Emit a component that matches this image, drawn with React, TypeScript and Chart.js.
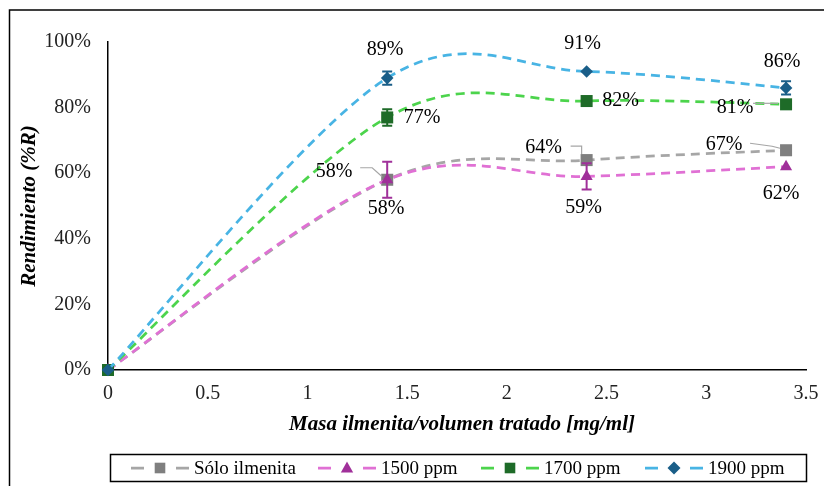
import React, { useEffect, useRef } from 'react';
import { Chart, registerables } from 'chart.js';

Chart.register(...registerables);

// ---------- data ----------
const xValues = [0, 1.4, 2.4, 3.4];
const seriesNames = ['Sólo ilmenita', '1500 ppm', '1700 ppm', '1900 ppm'];
const soloIlmenita = [0, 58, 64, 67];
const ppm1500 = [0, 58, 59, 62];
const ppm1700 = [0, 77, 82, 81];
const ppm1900 = [0, 89, 91, 86];
const errSolo = [0, 0, 0, 0];
const err1500 = [0, 5.5, 4, 0];
const err1700 = [0, 2.5, 0, 0];
const err1900 = [0, 2, 0, 2];
const yTickStep = 20;
const xTickStep = 0.5;
const xTitle = 'Masa ilmenita/volumen tratado [mg/ml]';
const yTitle = 'Rendimiento (%R)';

// ---------- styles ----------
const SERIF = '"Liberation Serif", "Times New Roman", serif';
type Style = { line: string; marker: string; shape: 'rect' | 'triangle' | 'rectRot'; radius: number };
const styles: Style[] = [
  { line: '#a6a6a6', marker: '#7f7f7f', shape: 'rect', radius: 8.5 },
  { line: '#e070d4', marker: '#a0309a', shape: 'triangle', radius: 7 },
  { line: '#4cd44c', marker: '#1e6b28', shape: 'rect', radius: 8.5 },
  { line: '#48b4e4', marker: '#1a5e88', shape: 'rectRot', radius: 6.3 },
];
const seriesValues = [soloIlmenita, ppm1500, ppm1700, ppm1900];
const seriesErrors = [errSolo, err1500, err1700, err1900];

// label offsets (dx, dy) relative to point, and optional leader line polyline (relative)
type LabelPos = { dx: number; dy: number; leader?: number[][] } | null;
const labelPos: LabelPos[][] = [
  [null,
    { dx: -53, dy: -8, leader: [[-27, -12], [-15, -12], [-5, -3]] },
    { dx: -43, dy: -12, leader: [[-16, -14], [-5, -14], [-5, -6]] },
    { dx: -62, dy: -5, leader: [[-36, -7], [-14, -4], [-6, -2]] }],
  [null, { dx: -1, dy: 29 }, { dx: -3, dy: 31 }, { dx: -5, dy: 27 }],
  [null, { dx: 35, dy: 0 }, { dx: 34, dy: 0 }, { dx: -51, dy: 3, leader: [[-33, -1], [-8, -1]] }],
  [null, { dx: -2, dy: -28 }, { dx: -4, dy: -28 }, { dx: -4, dy: -26 }],
];

function drawMarker(ctx: CanvasRenderingContext2D, shape: string, x: number, y: number, r: number, color: string) {
  ctx.save();
  ctx.fillStyle = color;
  ctx.beginPath();
  if (shape === 'rect') {
    const s = r * Math.SQRT1_2;
    ctx.rect(x - s, y - s, 2 * s, 2 * s);
  } else if (shape === 'triangle') {
    ctx.moveTo(x, y - r);
    ctx.lineTo(x + r * 0.95, y + r * 0.7);
    ctx.lineTo(x - r * 0.95, y + r * 0.7);
    ctx.closePath();
  } else {
    ctx.moveTo(x, y - r);
    ctx.lineTo(x + r, y);
    ctx.lineTo(x, y + r);
    ctx.lineTo(x - r, y);
    ctx.closePath();
  }
  ctx.fill();
  ctx.restore();
}

// Excel-like smoothing (uniform Catmull-Rom, 1/6 factor) applied to Chart.js control points
const smoothPlugin = {
  id: 'excelSmooth',
  beforeDatasetDraw(chart: any, args: any) {
    const meta = args.meta;
    const line = meta.dataset;
    const pts = meta.data;
    if (!line || !pts || pts.length < 2) return;
    const n = pts.length;
    for (let i = 0; i < n; i++) {
      const prev = pts[Math.max(0, i - 1)];
      const next = pts[Math.min(n - 1, i + 1)];
      const dx = (next.x - prev.x) / 6;
      const dy = (next.y - prev.y) / 6;
      pts[i].cp1x = pts[i].x - dx;
      pts[i].cp1y = pts[i].y - dy;
      pts[i].cp2x = pts[i].x + dx;
      pts[i].cp2y = pts[i].y + dy;
    }
    line._pointsUpdated = true;
    delete line._path;
  },
};

const overlayPlugin = {
  id: 'overlay',
  afterDatasetsDraw(chart: any) {
    const ctx: CanvasRenderingContext2D = chart.ctx;
    const xs = chart.scales.x;
    const ys = chart.scales.y;
    ctx.save();
    seriesErrors.forEach((errs, si) => {
      errs.forEach((e, i) => {
        if (!e) return;
        const px = xs.getPixelForValue(xValues[i]);
        const v = seriesValues[si][i];
        const y1 = ys.getPixelForValue(v + e);
        const y2 = ys.getPixelForValue(v - e);
        ctx.strokeStyle = styles[si].marker;
        ctx.lineWidth = 2;
        ctx.beginPath();
        ctx.moveTo(px, y1);
        ctx.lineTo(px, y2);
        ctx.moveTo(px - 5, y1);
        ctx.lineTo(px + 5, y1);
        ctx.moveTo(px - 5, y2);
        ctx.lineTo(px + 5, y2);
        ctx.stroke();
      });
    });
    ctx.restore();
  },
  afterDraw(chart: any) {
    const ctx: CanvasRenderingContext2D = chart.ctx;
    const xs = chart.scales.x;
    const ys = chart.scales.y;
    const area = chart.chartArea;
    ctx.save();

    // outer frame (top + left)
    ctx.strokeStyle = '#000';
    ctx.lineWidth = 1.5;
    ctx.beginPath();
    ctx.moveTo(9.5, 490);
    ctx.lineTo(9.5, 10);
    ctx.lineTo(830, 10);
    ctx.stroke();

    // axis titles
    ctx.fillStyle = '#000';
    ctx.font = `bold italic 21px ${SERIF}`;
    ctx.textAlign = 'center';
    ctx.textBaseline = 'middle';
    ctx.fillText(xTitle, (area.left + area.right) / 2 + 5, 425);
    ctx.save();
    ctx.translate(30, (area.top + area.bottom) / 2);
    ctx.rotate(-Math.PI / 2);
    ctx.fillText(yTitle, 0, 0);
    ctx.restore();

    // data labels + leader lines
    ctx.font = `20px ${SERIF}`;
    seriesValues.forEach((vals, si) => {
      vals.forEach((v, i) => {
        const lp = labelPos[si][i];
        if (!lp) return;
        const px = xs.getPixelForValue(xValues[i]);
        const py = ys.getPixelForValue(v);
        if (lp.leader) {
          ctx.strokeStyle = '#a6a6a6';
          ctx.lineWidth = 1.2;
          ctx.beginPath();
          lp.leader.forEach((p, k) => {
            if (k === 0) ctx.moveTo(px + p[0], py + p[1]);
            else ctx.lineTo(px + p[0], py + p[1]);
          });
          ctx.stroke();
        }
        ctx.fillStyle = '#000';
        ctx.fillText(`${Math.round(v)}%`, px + lp.dx, py + lp.dy);
      });
    });

    // legend
    const lx0 = 110, ly0 = 454, lx1 = 806, ly1 = 481;
    ctx.strokeStyle = '#000';
    ctx.lineWidth = 1.5;
    ctx.strokeRect(lx0 + 0.5, ly0 + 0.5, lx1 - lx0, ly1 - ly0);
    const itemX = [131, 318, 481, 645];
    const cy = (ly0 + ly1) / 2 + 0.5;
    ctx.font = `19px ${SERIF}`;
    ctx.textAlign = 'left';
    ctx.textBaseline = 'middle';
    seriesNames.forEach((name, si) => {
      const x = itemX[si];
      const st = styles[si];
      ctx.strokeStyle = st.line;
      ctx.lineWidth = 2.75;
      ctx.beginPath();
      ctx.moveTo(x, cy);
      ctx.lineTo(x + 13, cy);
      ctx.moveTo(x + 45, cy);
      ctx.lineTo(x + 58, cy);
      ctx.stroke();
      drawMarker(ctx, st.shape, x + 29, cy, st.shape === 'rect' ? 7.5 : 6.5, st.marker);
      ctx.fillStyle = '#000';
      ctx.fillText(name, x + 63, cy + 1);
    });

    ctx.restore();
  },
};

export default function App() {
  const canvasRef = useRef<HTMLCanvasElement | null>(null);

  useEffect(() => {
    if (!canvasRef.current) return;
    const datasets = seriesValues.map((vals, si) => ({
      label: seriesNames[si],
      data: xValues.map((x, i) => ({ x, y: vals[i] })),
      borderColor: styles[si].line,
      backgroundColor: styles[si].marker,
      pointBackgroundColor: styles[si].marker,
      pointBorderColor: styles[si].marker,
      pointBorderWidth: 0,
      pointStyle: styles[si].shape,
      pointRadius: styles[si].radius,
      borderWidth: 2.75,
      borderDash: [9, 6],
      tension: 0.4,
      fill: false,
      clip: false as any,
      order: 3 - si,
    }));

    const chart = new Chart(canvasRef.current, {
      type: 'line',
      data: { datasets },
      plugins: [smoothPlugin, overlayPlugin],
      options: {
        animation: false,
        responsive: false,
        devicePixelRatio: 1,
        layout: { padding: { left: 0, right: 18, top: 42, bottom: 0 } },
        plugins: { legend: { display: false }, tooltip: { enabled: false } },
        scales: {
          x: {
            type: 'linear',
            min: 0,
            max: 3.5,
            ticks: {
              stepSize: xTickStep,
              color: '#222',
              font: { family: SERIF, size: 20 },
              padding: 12,
              maxRotation: 0,
              callback: (v: any) => `${Math.round(Number(v) * 10) / 10}`,
            },
            grid: { display: false, drawTicks: false },
            border: { display: true, color: '#000', width: 1.5 },
            afterFit: (s: any) => {
              s.height = 116;
              s.paddingLeft = 0;
              s.paddingRight = 0;
            },
          },
          y: {
            type: 'linear',
            min: 0,
            max: 100,
            ticks: {
              stepSize: yTickStep,
              color: '#222',
              font: { family: SERIF, size: 20 },
              padding: 17,
              callback: (v: any) => `${v}%`,
            },
            grid: { display: false, drawTicks: false },
            border: { display: true, color: '#000', width: 1.5 },
            afterFit: (s: any) => {
              s.width = 108;
              s.paddingTop = 0;
              s.paddingBottom = 0;
            },
          },
        },
      },
    });
    return () => chart.destroy();
  }, []);

  return (
    <div style={{ position: 'absolute', left: 0, top: 0, width: 824, height: 486, background: '#fff' }}>
      <canvas ref={canvasRef} width={824} height={486} style={{ display: 'block' }} />
    </div>
  );
}
